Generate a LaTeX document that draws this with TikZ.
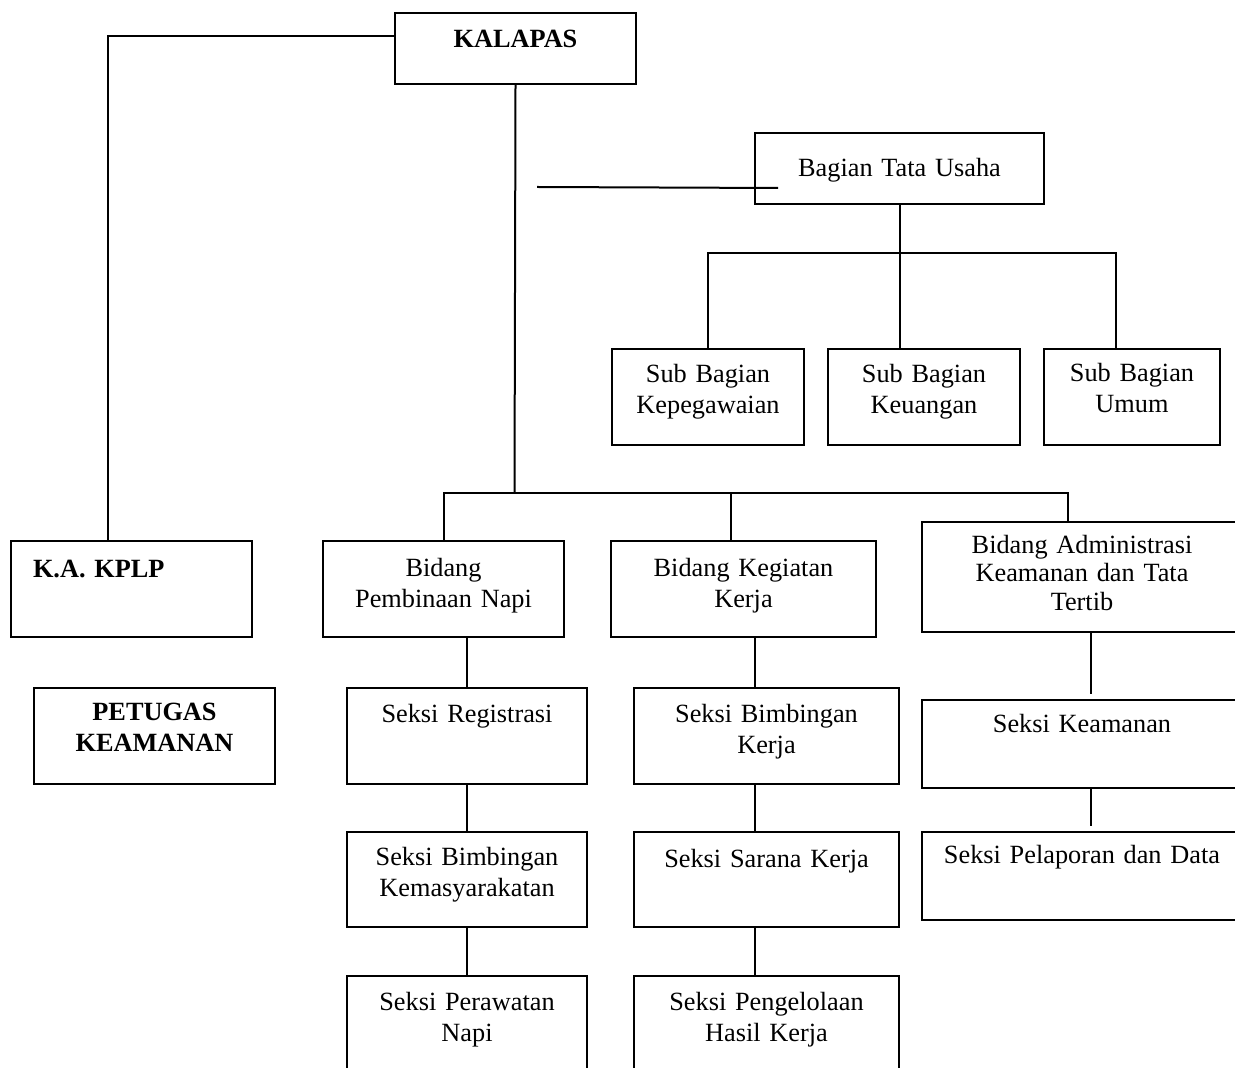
\documentclass[tikz,border=0pt]{standalone}
\usepackage{fontspec}
\setmainfont{Liberation Serif}
\usetikzlibrary{positioning,calc}
\newcommand{\orgfont}{\fontsize{13.15}{15.5}\selectfont}
\newcommand{\orgfonttight}{\fontsize{13.15}{14.3}\selectfont}

\begin{document}
\begin{tikzpicture}[x=0.5pt, y=-0.5pt, line width=1pt,
  unit/.style={draw, line width=1pt, anchor=north west, inner sep=0pt, fill=none},
  lbl/.style={anchor=base, text width=150pt, align=center, inner sep=0pt, font=\orgfont},
  bold/.style={lbl, font=\orgfont\bfseries}]
  \useasboundingbox (0,0) rectangle (1235,1068);
  \clip (0,0) rectangle (1235,1068);

  % Kepala and Tata Usaha
  \node[unit, minimum width=120.5pt, minimum height=35.5pt] (kalapas) at (394,12) {};
  \node[unit, minimum width=144.5pt, minimum height=35.5pt] (tu) at (754,132) {};
  \node[unit, minimum width=96pt, minimum height=48pt] (kpg) at (611,348) {};
  \node[unit, minimum width=96pt, minimum height=48pt] (keu) at (827,348) {};
  \node[unit, minimum width=88pt, minimum height=48pt] (umum) at (1043,348) {};

  % Bidang row
  \node[unit, minimum width=120.5pt, minimum height=48pt] (kplp) at (10,540) {};
  \node[unit, minimum width=120.5pt, minimum height=48pt] (bpn) at (322,540) {};
  \node[unit, minimum width=132.5pt, minimum height=48pt] (bkk) at (610,540) {};
  \node[unit, minimum width=160pt, minimum height=55pt] (badm) at (921,521) {};

  % Seksi boxes
  \node[unit, minimum width=120.5pt, minimum height=48pt] (petugas) at (33,687) {};
  \node[unit, minimum width=120pt, minimum height=48pt] (sreg) at (346,687) {};
  \node[unit, minimum width=120pt, minimum height=47.5pt] (sbk) at (346,831) {};
  \node[unit, minimum width=120pt, minimum height=60pt] (spn) at (346,975) {};
  \node[unit, minimum width=132.5pt, minimum height=48pt] (sbkj) at (633,687) {};
  \node[unit, minimum width=132.5pt, minimum height=47.5pt] (ssk) at (633,831) {};
  \node[unit, minimum width=132.5pt, minimum height=60pt] (spk) at (633,975) {};
  \node[unit, minimum width=160pt, minimum height=44pt] (skea) at (921,699) {};
  \node[unit, minimum width=160pt, minimum height=44pt] (spd) at (921,831) {};

  % Texts
  \node[bold] (t-kalapas) at ([yshift=-18pt]kalapas.north) {KALAPAS};
  \node[lbl] (t-tu) at ([yshift=-22.5pt]tu.north) {Bagian Tata Usaha};
  \node[lbl] (t-kpg) at ([yshift=-17.5pt]kpg.north) {Sub Bagian\\Kepegawaian};
  \node[lbl] (t-keu) at ([yshift=-17.5pt]keu.north) {Sub Bagian\\Keuangan};
  \node[lbl] (t-umum) at ([yshift=-17pt]umum.north) {Sub Bagian\\Umum};
  \node[bold, anchor=base west, align=left] (t-kplp) at ([xshift=11pt, yshift=-18.5pt]kplp.north west) {K.A. KPLP};
  \node[lbl] (t-bpn) at ([yshift=-18pt]bpn.north) {Bidang\\Pembinaan Napi};
  \node[lbl] (t-bkk) at ([yshift=-18pt]bkk.north) {Bidang Kegiatan\\Kerja};
  \node[lbl, font=\orgfonttight] (t-badm) at ([yshift=-16pt]badm.north) {Bidang Administrasi\\Keamanan dan Tata\\Tertib};
  \node[bold] (t-petugas) at ([yshift=-16.5pt]petugas.north) {PETUGAS\\KEAMANAN};
  \node[lbl] (t-sreg) at ([yshift=-17.5pt]sreg.north) {Seksi Registrasi};
  \node[lbl] (t-sbk) at ([yshift=-17pt]sbk.north) {Seksi Bimbingan\\Kemasyarakatan};
  \node[lbl] (t-spn) at ([yshift=-17.5pt]spn.north) {Seksi Perawatan\\Napi};
  \node[lbl] (t-sbkj) at ([yshift=-17.5pt]sbkj.north) {Seksi Bimbingan\\Kerja};
  \node[lbl] (t-ssk) at ([yshift=-18pt]ssk.north) {Seksi Sarana Kerja};
  \node[lbl] (t-spk) at ([yshift=-17.5pt]spk.north) {Seksi Pengelolaan\\Hasil Kerja};
  \node[lbl] (t-skea) at ([yshift=-16.5pt]skea.north) {Seksi Keamanan};
  \node[lbl] (t-spd) at ([yshift=-16pt]spd.north) {Seksi Pelaporan dan Data};

  % KALAPAS to K.A. KPLP
  \coordinate (kplp-in) at ([xshift=-11.75pt]kplp.north);
  \draw ([yshift=6.25pt]kalapas.west) -| (kplp-in);

  % KALAPAS to the Bidang row
  \coordinate (bus) at (514.5,493);
  \coordinate (adm-in) at ([xshift=-7pt]badm.north);
  \coordinate (kk-in) at ([xshift=-6.25pt]bkk.north);
  \draw (kalapas.south) -- (bus);
  \draw (bpn.north) |- (adm-in |- bus) -- (adm-in);
  \draw (kk-in) -- (kk-in |- bus);

  % Tata Usaha
  \coordinate (tu-stub) at (537,187);
  \coordinate (tu-in) at ([xshift=12pt, yshift=-9.75pt]tu.west);
  \draw (tu-stub) -- (tu-in);
  \coordinate (bus-tu) at (899,253);
  \coordinate (umum-in) at ([xshift=-8pt]umum.north);
  \draw (tu.south) -- (tu.south |- keu.north);
  \draw (kpg.north) |- (umum-in |- bus-tu) -- (umum-in);

  % Pembinaan column
  \draw (sreg.north) -- (sreg.north |- bpn.south);
  \draw (sreg.south) -- (sbk.north);
  \draw (sbk.south) -- (spn.north);

  % Kegiatan column
  \coordinate (kj-top) at ([xshift=-5.75pt]sbkj.north);
  \draw (kj-top) -- (kj-top |- bkk.south);
  \draw ([xshift=-5.75pt]sbkj.south) -- ([xshift=-5.75pt]ssk.north);
  \draw ([xshift=-5.75pt]ssk.south) -- ([xshift=-5.75pt]spk.north);

  % Administrasi column
  \draw ([xshift=4.5pt]badm.south) -- ([xshift=4.5pt, yshift=2.5pt]skea.north);
  \draw ([xshift=4.5pt]skea.south) -- ([xshift=4.5pt, yshift=2.5pt]spd.north);
\end{tikzpicture}
\end{document}
